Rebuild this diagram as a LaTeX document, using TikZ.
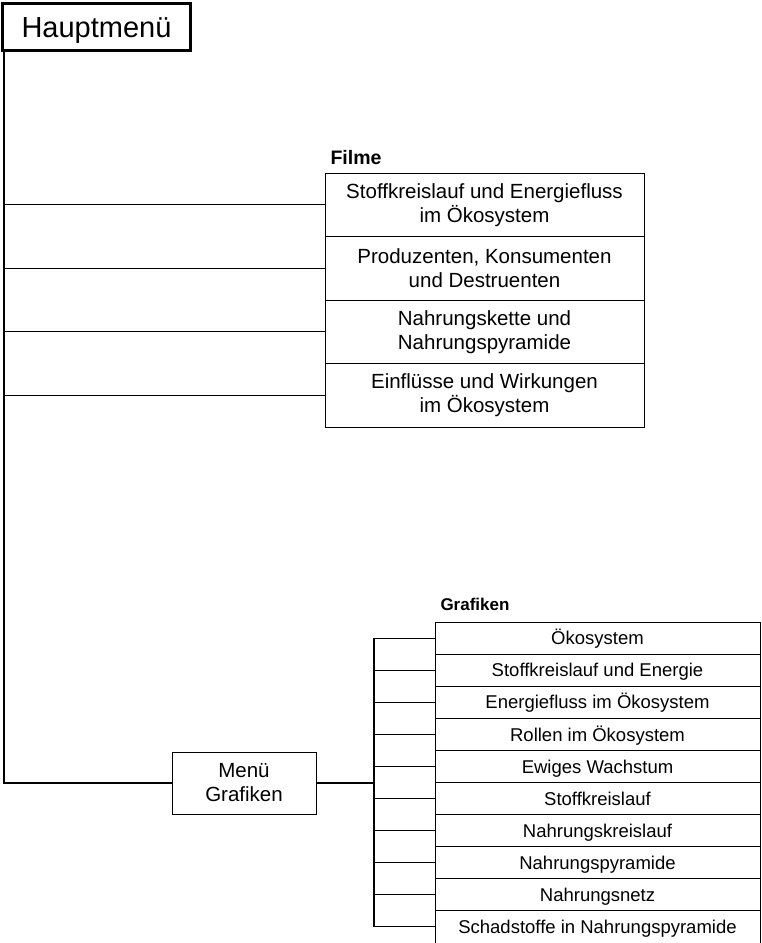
\documentclass[tikz,border=0pt]{standalone}
\usepackage{fontspec}
\setmainfont{Liberation Sans}
\begin{document}
\begin{tikzpicture}[x=1pt,y=-1pt,
  line width=1pt,
  filmrow/.style={draw=black, line width=1pt, inner sep=0pt, align=center,
    minimum width=319pt, minimum height=63.5pt,
    font=\fontsize{20.5}{24}\selectfont},
  grafrow/.style={draw=black, line width=1pt, inner sep=0pt, align=center,
    minimum width=325pt, minimum height=32.1pt, text height=13.3pt, text depth=0pt,
    font=\fontsize{18.5}{21}\selectfont},
  conn/.style={draw=black, line width=1pt},
  label/.style={anchor=base west, inner sep=0pt, font=\bfseries\fontsize{#1}{#1}\selectfont}
]
\useasboundingbox (0,0) rectangle (762,943);

% Main menu
\node[draw=black, line width=3pt, minimum width=188pt, minimum height=47pt,
      inner sep=0pt, text height=20.8pt, text depth=0pt,
      font=\fontsize{29}{32}\selectfont] (hm) at (96.5,27) {Hauptmenü};

% Filme
\node[label=19.5] (filme) at (330,164) {Filme};
\node[filmrow] (f1) at (484.5,204.75) {Stoffkreislauf und Energiefluss\\im Ökosystem};
\node[filmrow] (f2) at (484.5,268.25) {Produzenten, Konsumenten\\und Destruenten};
\node[filmrow] (f3) at (484.5,331.75) {Nahrungskette und\\Nahrungspyramide};
\node[filmrow] (f4) at (484.5,395.25) {Einflüsse und Wirkungen\\im Ökosystem};

% Menü Grafiken
\node[draw=black, line width=1pt, minimum width=144pt, minimum height=62pt,
      inner sep=0pt, align=center, font=\fontsize{20.5}{24}\selectfont] (mg) at (244,783) {Menü\\Grafiken};

% Grafiken
\node[label=17] (graf) at (440,610) {Grafiken};
\node[grafrow] (g1) at (597.5,638.05) {Ökosystem};
\node[grafrow] (g2) at (597.5,670.15) {Stoffkreislauf und Energie};
\node[grafrow] (g3) at (597.5,702.25) {Energiefluss im Ökosystem};
\node[grafrow] (g4) at (597.5,734.35) {Rollen im Ökosystem};
\node[grafrow] (g5) at (597.5,766.45) {Ewiges Wachstum};
\node[grafrow] (g6) at (597.5,798.55) {Stoffkreislauf};
\node[grafrow] (g7) at (597.5,830.65) {Nahrungskreislauf};
\node[grafrow] (g8) at (597.5,862.75) {Nahrungspyramide};
\node[grafrow] (g9) at (597.5,894.85) {Nahrungsnetz};
\node[grafrow] (g10) at (597.5,926.95) {Schadstoffe in Nahrungspyramide};

% main spine
\coordinate (sp) at (4,0);
\draw[conn, line width=1.5pt] (sp |- hm.south) -- (sp |- mg.west) -- (mg.west);
\foreach \f in {f1,f2,f3,f4} {
  \draw[conn] (sp |- \f.west) -- (\f.west);
}

% grafiken spine
\coordinate (gs) at (374,0);
\draw[conn, line width=2pt] (mg.east) -- (gs |- mg.east);
\draw[conn, line width=1.5pt] (gs |- g1.west) -- (gs |- g10.west);
\foreach \g in {g1,g2,g3,g4,g5,g6,g7,g8,g9,g10} {
  \draw[conn] (gs |- \g.west) -- (\g.west);
}
\end{tikzpicture}
\end{document}
